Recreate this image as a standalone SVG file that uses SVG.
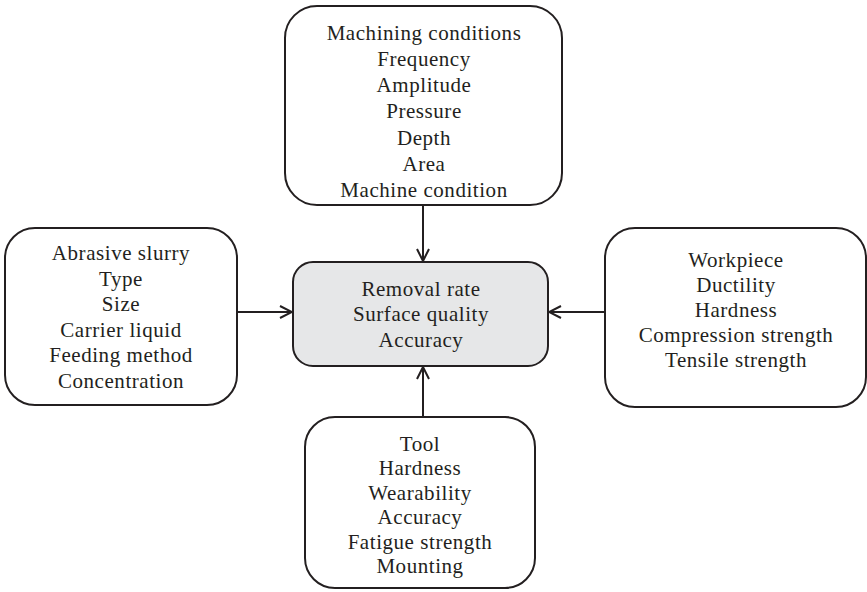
<svg xmlns="http://www.w3.org/2000/svg" width="867" height="592" viewBox="0 0 867 592">
<style>
.box{fill:#fff;stroke:#231f20;stroke-width:2}
.core{fill:#e6e7e8;stroke:#231f20;stroke-width:2}
text{font-family:"Liberation Serif","Times New Roman",serif;font-size:21px;letter-spacing:0.55px;fill:#231f20;text-anchor:middle}
.conn{stroke:#231f20;stroke-width:2;fill:none;marker-end:url(#arr)}
</style>
<defs>
<marker id="arr" viewBox="0 0 14 14" refX="13" refY="7" markerWidth="14" markerHeight="14" markerUnits="userSpaceOnUse" orient="auto">
<path d="M1,1 L13,7 L1,13" fill="none" stroke="#231f20" stroke-width="2"/>
</marker>
</defs>
<g id="connectors">
<line class="conn" x1="423" y1="205" x2="423" y2="261"/>
<line class="conn" x1="423" y1="417" x2="423" y2="367"/>
<line class="conn" x1="237" y1="312" x2="292" y2="312"/>
<line class="conn" x1="605" y1="312" x2="549" y2="312"/>
</g>
<g id="machining">
<rect class="box" x="285" y="6" width="277" height="199" rx="32"/>
<text x="424" y="40">Machining conditions</text>
<text x="424" y="66">Frequency</text>
<text x="424" y="92">Amplitude</text>
<text x="424" y="118">Pressure</text>
<text x="424" y="145">Depth</text>
<text x="424" y="171">Area</text>
<text x="424" y="197">Machine condition</text>
</g>
<g id="slurry">
<rect class="box" x="5" y="228" width="232" height="177" rx="30"/>
<text x="121" y="260">Abrasive slurry</text>
<text x="121" y="286">Type</text>
<text x="121" y="311">Size</text>
<text x="121" y="337">Carrier liquid</text>
<text x="121" y="362">Feeding method</text>
<text x="121" y="388">Concentration</text>
</g>
<g id="result">
<rect class="core" x="293" y="262" width="255" height="104" rx="20"/>
<text x="421" y="296">Removal rate</text>
<text x="421" y="321">Surface quality</text>
<text x="421" y="347">Accuracy</text>
</g>
<g id="workpiece">
<rect class="box" x="605" y="228" width="261" height="179" rx="30"/>
<text x="736" y="267">Workpiece</text>
<text x="736" y="292">Ductility</text>
<text x="736" y="317">Hardness</text>
<text x="736" y="342">Compression strength</text>
<text x="736" y="367">Tensile strength</text>
</g>
<g id="tool">
<rect class="box" x="305" y="417" width="230" height="171" rx="30"/>
<text x="420" y="451">Tool</text>
<text x="420" y="475">Hardness</text>
<text x="420" y="500">Wearability</text>
<text x="420" y="524">Accuracy</text>
<text x="420" y="549">Fatigue strength</text>
<text x="420" y="573">Mounting</text>
</g>
</svg>
